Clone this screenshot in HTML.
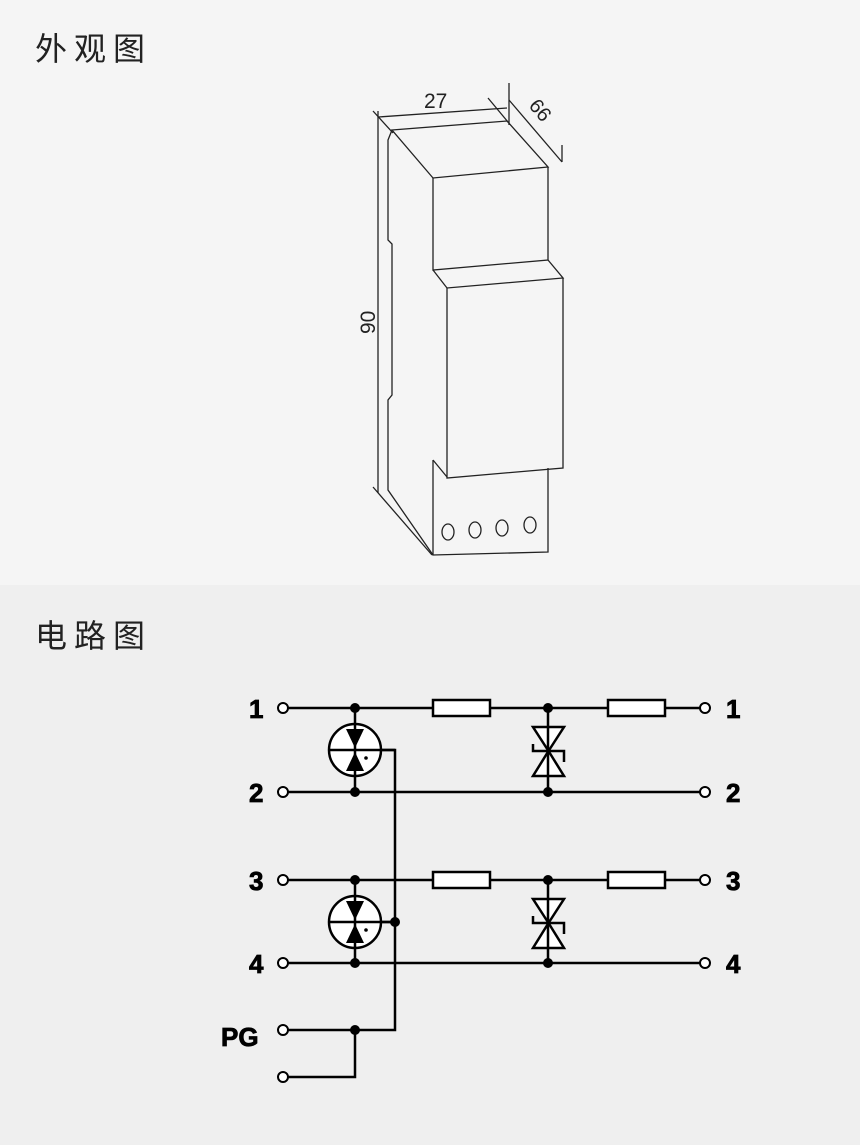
<!DOCTYPE html>
<html><head><meta charset="utf-8"><style>
body{margin:0;width:860px;height:1145px;background:#efefef;font-family:"Liberation Sans","Noto Sans CJK SC",sans-serif;}
.top{position:absolute;left:0;top:0;width:860px;height:585px;background:#f5f5f5}
.t{position:absolute;left:35px;font-size:32px;color:#222;letter-spacing:7px}
svg{position:absolute;left:0;top:0}
</style></head><body>
<div class="top"></div>
<div class="t" style="top:24px">外观图</div>
<div class="t" style="top:611px">电路图</div>
<svg width="860" height="1145" viewBox="0 0 860 1145">
<g fill="none" stroke="#222" stroke-width="1.3">
<line x1="378" y1="117" x2="507" y2="108"/>
<line x1="373" y1="111" x2="393" y2="133"/>
<line x1="488" y1="98" x2="508" y2="122"/>
<line x1="509" y1="83" x2="509" y2="125"/>
<line x1="562" y1="145" x2="562" y2="162"/>
<line x1="509" y1="100" x2="562" y2="162"/>
<line x1="378" y1="111" x2="378" y2="493"/>
<line x1="373" y1="487" x2="432" y2="555"/>
<polygon points="392,130 507,121 548,167 433,178"/>
<polyline points="433,178 433,270 548,260 548,167"/>
<polyline points="433,270 447,288 563,278 548,260"/>
<polyline points="447,288 447,478 563,468 563,278"/>
<polyline points="433,460 447,477"/>
<polyline points="433,460 433,555 548,552 548,468"/>
<polyline points="392,130 388,140 388,240 392,244 392,395 388,400 388,490 433,555"/>
<ellipse cx="448" cy="532" rx="6" ry="8"/>
<ellipse cx="475" cy="530" rx="6" ry="8"/>
<ellipse cx="502" cy="528" rx="6" ry="8"/>
<ellipse cx="530" cy="525" rx="6" ry="8"/>
</g>
<text x="424" y="108" font-size="21" fill="#222" font-family="Liberation Sans">27</text>
<text x="0" y="0" font-size="20" fill="#222" font-family="Liberation Sans" transform="translate(528,106) rotate(50)">66</text>
<text x="0" y="0" font-size="21" fill="#222" font-family="Liberation Sans" transform="translate(375,334) rotate(-90)">90</text>

<g stroke="#000" stroke-width="2.5" fill="none">
<line x1="288" y1="708" x2="433" y2="708"/><line x1="490" y1="708" x2="608" y2="708"/><line x1="665" y1="708" x2="700" y2="708"/>
<line x1="288" y1="792" x2="700" y2="792"/>
<line x1="288" y1="880" x2="433" y2="880"/><line x1="490" y1="880" x2="608" y2="880"/><line x1="665" y1="880" x2="700" y2="880"/>
<line x1="288" y1="963" x2="700" y2="963"/>
<rect x="433" y="700" width="57" height="16" fill="#fff"/>
<rect x="608" y="700" width="57" height="16" fill="#fff"/>
<rect x="433" y="872" width="57" height="16" fill="#fff"/>
<rect x="608" y="872" width="57" height="16" fill="#fff"/>
<line x1="355" y1="708" x2="355" y2="792"/>
<line x1="355" y1="880" x2="355" y2="963"/>
<polyline points="355,750 395,750 395,1030 288,1030"/>
<line x1="355" y1="922" x2="395" y2="922"/>
<polyline points="355,1030 355,1077 288,1077"/>
<line x1="548" y1="708" x2="548" y2="792"/>
<line x1="548" y1="880" x2="548" y2="963"/>
</g>
<g stroke="#000" stroke-width="2.5">
<circle cx="355" cy="750" r="26" fill="#fff"/>
<circle cx="355" cy="922" r="26" fill="#fff"/>
<line x1="329" y1="750" x2="395" y2="750"/>
<line x1="329" y1="922" x2="395" y2="922"/>
</g>
<g fill="#000">
<polygon points="346,729 364,729 355,748"/><polygon points="346,771 364,771 355,752"/>
<polygon points="346,901 364,901 355,920"/><polygon points="346,943 364,943 355,924"/>
<circle cx="366" cy="758" r="1.8"/><circle cx="366" cy="930" r="1.8"/>
<line x1="355" y1="723" x2="355" y2="777" stroke="#000" stroke-width="2.5"/>
<line x1="355" y1="895" x2="355" y2="949" stroke="#000" stroke-width="2.5"/>
</g>
<g stroke="#000" stroke-width="2.5" fill="#fff">
<polygon points="533,727 564,727 548.5,751"/><polygon points="533,776 564,776 548.5,751"/>
<polyline fill="none" points="533,744 533,751 564,751 564,762"/>
<polygon points="533,899 564,899 548.5,923"/><polygon points="533,948 564,948 548.5,923"/>
<polyline fill="none" points="533,916 533,923 564,923 564,934"/>
<line x1="548" y1="727" x2="548" y2="776"/><line x1="548" y1="899" x2="548" y2="948"/>
</g>
<g fill="#000">
<circle cx="355" cy="708" r="5"/><circle cx="355" cy="792" r="5"/><circle cx="548" cy="708" r="5"/><circle cx="548" cy="792" r="5"/>
<circle cx="355" cy="880" r="5"/><circle cx="355" cy="963" r="5"/><circle cx="548" cy="880" r="5"/><circle cx="548" cy="963" r="5"/>
<circle cx="395" cy="922" r="5"/><circle cx="355" cy="1030" r="5"/>
</g>
<g fill="#fff" stroke="#000" stroke-width="2">
<circle cx="283" cy="708" r="5"/><circle cx="283" cy="792" r="5"/><circle cx="283" cy="880" r="5"/><circle cx="283" cy="963" r="5"/>
<circle cx="283" cy="1030" r="5"/><circle cx="283" cy="1077" r="5"/>
<circle cx="705" cy="708" r="5"/><circle cx="705" cy="792" r="5"/><circle cx="705" cy="880" r="5"/><circle cx="705" cy="963" r="5"/>
</g>
<g font-family="Liberation Sans" font-weight="bold" font-size="26" fill="#000" stroke="#000" stroke-width="0.8">
<text x="249" y="718">1</text><text x="249" y="802">2</text><text x="249" y="890">3</text><text x="249" y="973">4</text>
<text x="726" y="718">1</text><text x="726" y="802">2</text><text x="726" y="890">3</text><text x="726" y="973">4</text>
<text x="221" y="1046">PG</text>
</g>
</svg>
</body></html>
